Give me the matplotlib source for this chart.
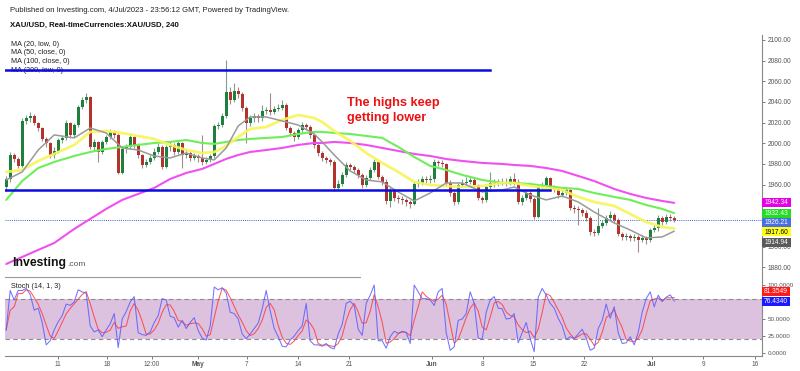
import numpy as np
import pandas as pd
import matplotlib
matplotlib.use('Agg')
import matplotlib.pyplot as plt
from matplotlib.patches import Rectangle
from matplotlib.lines import Line2D

plt.rcParams['font.family'] = ['Liberation Sans', 'DejaVu Sans']

W, H = 800, 371


def fx(px):
    return px / W


def fy(py):
    return 1 - py / H


# ---- XAU/USD 4h candles (open = previous close) ----
first_open = 1958
close = [1965, 1989, 1985, 1978, 2022, 2024, 2026, 2020, 2015, 2004,
         2000, 1989, 1993, 2003, 2005, 2020, 2008, 2018, 2035, 2042,
         2045, 1996, 2001, 1992, 2001, 2006, 2011, 2008, 1971, 1994,
         1996, 2006, 1998, 1989, 1979, 1982, 1986, 1992, 1996, 1977,
         1996, 1998, 1992, 2000, 1989, 1991, 1986, 1988, 1986, 1982,
         1984, 1988, 2017, 2018, 2026, 2050, 2042, 2051, 2048, 2034,
         2020, 2024, 2026, 2024, 2031, 2032, 2030, 2033, 2034, 2037,
         2015, 2010, 2006, 2013, 2018, 2016, 2008, 1998, 1991, 1986,
         1984, 1982, 1957, 1961, 1969, 1979, 1977, 1974, 1969, 1960,
         1966, 1974, 1982, 1967, 1963, 1944, 1955, 1947, 1946, 1945,
         1943, 1941, 1961, 1962, 1965, 1964, 1965, 1982, 1981, 1980,
         1962, 1952, 1943, 1960, 1962, 1963, 1964, 1960, 1947, 1945,
         1958, 1962, 1961, 1962, 1963, 1962, 1965, 1963, 1943, 1947,
         1952, 1946, 1929, 1958, 1960, 1966, 1957, 1956, 1950, 1952,
         1955, 1937, 1936, 1935, 1933, 1928, 1914, 1913, 1920, 1923,
         1928, 1931, 1926, 1912, 1909, 1910, 1908, 1909, 1906, 1908,
         1906, 1916, 1918, 1928, 1924, 1929, 1928, 1926.21]
high = [1968, 1992, 1991, 1987, 2024, 2027, 2030, 2028, 2021, 2016,
        2006, 2001, 1996, 2005, 2008, 2023, 2021, 2020, 2037, 2045,
        2049, 2046, 2004, 2002, 2003, 2008, 2014, 2013, 2010, 1996,
        1999, 2009, 2007, 2000, 1990, 1985, 1989, 1995, 2000, 1998,
        1998, 2002, 2000, 2003, 2001, 1994, 1993, 1991, 1990, 2008,
        1987, 1990, 2019, 2021, 2029, 2081, 2054, 2058, 2054, 2050,
        2036, 2027, 2029, 2028, 2037, 2035, 2049, 2036, 2038, 2042,
        2039, 2017, 2012, 2015, 2021, 2020, 2018, 2009, 2000, 1993,
        1988, 1986, 1984, 1964, 1972, 1982, 1981, 1979, 1976, 1971,
        1969, 1977, 1985, 1983, 1969, 1965, 1958, 1956, 1950, 1949,
        1947, 1945, 1963, 1965, 1968, 1968, 1969, 1985, 1984, 1984,
        1981, 1964, 1954, 1962, 1965, 1967, 1968, 1966, 1961, 1949,
        1960, 1972, 1965, 1965, 1966, 1966, 1968, 1971, 1965, 1950,
        1955, 1954, 1948, 1960, 1963, 1968, 1967, 1960, 1958, 1955,
        1958, 1956, 1940, 1939, 1937, 1935, 1930, 1917, 1937, 1926,
        1931, 1934, 1933, 1928, 1914, 1913, 1912, 1912, 1911, 1911,
        1910, 1918, 1921, 1931, 1930, 1932, 1932, 1930]
low = [1954, 1963, 1982, 1976, 1977, 2019, 2021, 2018, 2012, 2002,
       1996, 1986, 1986, 1991, 2000, 2003, 2005, 2006, 2016, 2033,
       2039, 1994, 1993, 1982, 1990, 1999, 2004, 2005, 1970, 1970,
       1991, 1994, 1995, 1986, 1976, 1977, 1980, 1984, 1990, 1975,
       1976, 1993, 1989, 1990, 1976, 1986, 1983, 1984, 1982, 1979,
       1980, 1982, 1986, 2014, 2016, 2024, 2038, 2040, 2044, 2031,
       2000, 2017, 2021, 2021, 2022, 2028, 2027, 2028, 2031, 2032,
       2013, 2007, 2002, 2004, 2011, 2013, 2005, 1995, 1988, 1983,
       1981, 1979, 1954, 1955, 1959, 1967, 1974, 1971, 1966, 1957,
       1958, 1964, 1972, 1965, 1960, 1941, 1938, 1944, 1942, 1941,
       1939, 1937, 1940, 1958, 1960, 1961, 1962, 1963, 1978, 1977,
       1959, 1949, 1940, 1941, 1958, 1960, 1961, 1957, 1945, 1942,
       1943, 1956, 1958, 1959, 1960, 1959, 1960, 1960, 1941, 1940,
       1945, 1943, 1927, 1928, 1956, 1958, 1954, 1953, 1947, 1948,
       1950, 1935, 1933, 1921, 1930, 1925, 1911, 1910, 1911, 1918,
       1921, 1926, 1923, 1910, 1906, 1906, 1905, 1905, 1895, 1904,
       1903, 1904, 1914, 1915, 1921, 1922, 1925, 1924]

# ---- moving averages, read at these bar indices ----
ma_idx = [0, 4, 8, 12, 17, 21, 25, 29, 33, 37, 41, 45, 49, 52, 55, 58, 61, 65, 69, 73, 77, 79,
          82, 86, 90, 94, 98, 102, 106, 110, 114, 119, 124, 127, 131, 135, 139, 143, 147, 152,
          156, 160, 164, 167]
ma20 = [1964.5, 1972.3, 1993.5, 2008.1, 2005.2, 2014.8, 2010.0, 1995.5, 1993.5, 1987.7, 1985.8,
        1990.6, 1985.8, 1983.9, 1995.5, 2016.8, 2025.5, 2025.5, 2021.6, 2017.7, 2009.0, 2001.3,
        1988.7, 1973.2, 1964.5, 1962.6, 1952.9, 1944.2, 1951.9, 1961.6, 1961.6, 1952.9, 1954.8,
        1957.7, 1950.0, 1945.2, 1949.0, 1943.2, 1933.5, 1922.9, 1916.1, 1908.4, 1909.4, 1914.94]
ma50 = [1972.3, 1974.2, 1982.9, 1989.7, 1998.4, 2011.0, 2011.9, 2010.0, 2007.1, 2004.2, 1998.4,
        1993.5, 1990.6, 1991.6, 1997.4, 2006.1, 2013.9, 2015.8, 2022.6, 2027.4, 2024.5, 2020.6,
        2011.9, 2002.3, 1990.6, 1981.0, 1972.3, 1962.6, 1959.7, 1958.7, 1957.7, 1958.7, 1961.6,
        1961.6, 1958.7, 1956.8, 1954.8, 1948.1, 1943.2, 1939.4, 1931.6, 1923.9, 1919.0, 1917.60]
ma100 = [1945.2, 1963.5, 1976.1, 1981.9, 1987.7, 1991.6, 1994.5, 1996.5, 1998.4, 2000.3, 2001.3,
         2003.2, 2000.3, 1999.4, 2001.3, 2003.2, 2004.2, 2005.2, 2006.1, 2009.0, 2011.0, 2011.0,
         2010.0, 2009.0, 2007.1, 2005.2, 1996.5, 1986.8, 1978.1, 1974.2, 1969.4, 1964.5, 1961.6,
         1961.6, 1960.6, 1958.7, 1956.8, 1955.8, 1951.9, 1948.1, 1945.2, 1940.3, 1936.5, 1932.43]
ma200 = [1883.2, 1890.0, 1896.8, 1903.5, 1917.1, 1926.8, 1936.5, 1945.2, 1951.0, 1956.8, 1965.5,
         1971.3, 1975.2, 1980.0, 1984.9, 1988.7, 1991.6, 1993.5, 1995.5, 1998.4, 2000.3, 2000.3,
         2001.3, 2000.3, 1998.4, 1995.5, 1992.6, 1989.7, 1987.7, 1984.8, 1982.9, 1981.0, 1980.0,
         1979.0, 1978.1, 1976.1, 1973.2, 1968.4, 1963.5, 1955.8, 1951.0, 1947.1, 1944.2, 1942.34]

# ---- Stoch (14, 1, 3) %K ----
stoch_k = [34, 92, 78, 92, 92, 95, 86, 63, 66, 45,
           12, 18, 34, 46, 55, 72, 70, 75, 93, 90,
           88, 40, 31, 34, 24, 34, 43, 58, 8, 50,
           61, 75, 83, 30, 27, 26, 31, 45, 55, 80,
           78, 54, 52, 38, 48, 36, 45, 52, 33, 22,
           19, 40, 97, 93, 96, 88, 60, 58, 50, 28,
           21, 28, 36, 44, 65, 92, 62, 36, 24, 10,
           9, 19, 25, 33, 40, 73, 18, 12, 12, 10,
           14, 8, 6, 28, 42, 73, 76, 70, 35, 26,
           73, 85, 100, 18, 18, 7, 24, 32, 29, 32,
           30, 14, 100, 90, 80, 80, 78, 70, 90, 95,
           30, 4, 9, 48, 50, 58, 90, 73, 22, 20,
           60, 78, 83, 66, 65, 50, 51, 58, 15, 30,
           45, 21, 2, 82, 95, 85, 73, 66, 51, 40,
           20, 24, 21, 28, 35, 22, 4, 7, 36, 48,
           72, 51, 68, 30, 14, 15, 24, 12, 30, 60,
           80, 90, 68, 85, 76, 82, 85.6307, 76.434]

resistance = 2071.0
resistance_end = 121
support = 1954.5
support_end = 136
last_price = 1926.21

tick_pos = [12.95, 25.2, 36.45, 47.95, 60.2, 72.95, 85.7, 106.45, 119.2, 131.7, 144.45, 161.45,
            174.2, 187.2]
tick_lab = ['11', '18', '12:00', 'May', '7', '14', '21', 'Jun', '8', '15', '22', 'Jul', '9', '16']
month_labels = ['May', 'Jun', 'Jul']

price_ticks = [1880, 1900, 1960, 1980, 2000, 2020, 2040, 2060, 2080, 2100]  # others hidden by boxes

# ---- figure ----
fig = plt.figure(figsize=(W / 100, H / 100), dpi=100)
fig.patch.set_facecolor('white')
ax = fig.add_axes([fx(5), fy(277), fx(762) - fx(5), fy(35) - fy(277)])
st = fig.add_axes([fx(5), fy(356), fx(762) - fx(5), fy(277) - fy(356)])

xs = np.arange(len(close))
c = np.array(close, dtype=float)
o = np.concatenate([[first_open], c[:-1]])
hi = np.array(high, dtype=float)
lo = np.array(low, dtype=float)
up = c >= o

# candles
ax.vlines(xs[up], lo[up], hi[up], color='#7fa08c', lw=0.8, zorder=2)
ax.vlines(xs[~up], lo[~up], hi[~up], color='#a58a8a', lw=0.8, zorder=2)
body_lo = np.minimum(o, c)
body_h = np.maximum(np.abs(c - o), 0.6)
ax.bar(xs[up], body_h[up], bottom=body_lo[up], width=0.72, color='#1f7f3d', lw=0, zorder=3)
ax.bar(xs[~up], body_h[~up], bottom=body_lo[~up], width=0.72, color='#b3322b', lw=0, zorder=3)

# moving averages
ax.plot(ma_idx, ma200, color='#f050f0', lw=1.5, zorder=4, solid_capstyle='round')
ax.plot(ma_idx, ma100, color='#6fee5a', lw=1.5, zorder=4, solid_capstyle='round')
ax.plot(ma_idx, ma50, color='#f7f55a', lw=2.0, alpha=0.9, zorder=4, solid_capstyle='round')
ax.plot(ma_idx, ma20, color='#9a9a9a', lw=1.1, zorder=4, solid_capstyle='round')

# drawn levels
ax.plot([-0.3, resistance_end], [resistance, resistance], color='#0a0ae6', lw=1.8, zorder=5)
ax.plot([-0.3, support_end], [support, support], color='#0a0ae6', lw=1.8, zorder=5)
ax.axhline(last_price, color='#3a5fd8', lw=0.7, ls=(0, (1, 1.2)), zorder=1)

ax.set_xlim(-0.3, 188.95)
ax.set_ylim(1870.6, 2104.8)
ax.set_yticks(np.arange(1880, 2101, 20))
ax.set_yticklabels([f'{v:.2f}' if v in price_ticks else '' for v in np.arange(1880, 2101, 20)])
ax.yaxis.tick_right()
ax.tick_params(axis='y', length=2.5, width=0.6, pad=1.5, labelsize=4.8, colors='#666666', labelcolor='#555555')
ax.set_xticks([])
for s in ['top', 'left', 'bottom']:
    ax.spines[s].set_visible(False)
ax.spines['right'].set_color('#888888')
ax.spines['right'].set_linewidth(0.8)

# legend text (struck through by the resistance line)
ma_names = ['MA (20, low, 0)', 'MA (50, close, 0)', 'MA (100, close, 0)', 'MA (200, low, 0)']
for k, name in enumerate(ma_names):
    ax.text(fx(11), fy(44 + k * 8.7), name, transform=fig.transFigure, fontsize=5.2,
            color='#222222', va='center', ha='left', zorder=1, clip_on=False)

ax.text(fx(347), fy(103), 'The highs keep', transform=fig.transFigure, fontsize=9.2,
        fontweight='bold', color='#ee1111', va='center', ha='left', zorder=6)
ax.text(fx(347), fy(118), 'getting lower', transform=fig.transFigure, fontsize=9.2,
        fontweight='bold', color='#ee1111', va='center', ha='left', zorder=6)

ax.text(fx(12), fy(263), 'Investing', transform=fig.transFigure, fontsize=8.8,
        fontweight='bold', color='#111111', va='center', ha='left', zorder=6)
ax.text(fx(67), fy(264.5), '.com', transform=fig.transFigure, fontsize=6,
        color='#555555', va='center', ha='left', zorder=6)

# ---- stochastic panel ----
k_s = pd.Series(stoch_k, dtype=float)
d_s = k_s.rolling(3, min_periods=1).mean()
st.axhspan(20, 80, color='#dcc2df', lw=0, zorder=0)
st.axhline(80, color='#8c8c8c', lw=0.8, ls=(0, (4, 3)), zorder=1)
st.axhline(20, color='#8c8c8c', lw=0.8, ls=(0, (4, 3)), zorder=1)
st.plot(xs, k_s.values, color='#5a5aff', lw=0.75, alpha=0.85, zorder=3)
st.plot(xs, d_s.values, color='#ff3c3c', lw=0.75, alpha=0.85, zorder=2)
st.set_xlim(-0.3, 188.95)
st.set_ylim(-4.4, 111.8)
st_ticks = [0, 25, 50, 100]
st.set_yticks(st_ticks)
st.set_yticklabels([f'{v:.4f}' for v in st_ticks])
st.yaxis.tick_right()
st.tick_params(axis='y', length=2.5, width=0.6, pad=1.5, labelsize=4.5, colors='#666666', labelcolor='#555555')
st.set_xticks(tick_pos)
st.set_xticklabels(tick_lab)
st.tick_params(axis='x', length=2, width=0.6, pad=1.5, labelsize=4.7, colors='#666666', labelcolor='#555555')
for t in st.get_xticklabels():
    if t.get_text() in month_labels:
        t.set_fontweight('bold')
for s in ['top', 'left']:
    st.spines[s].set_visible(False)
for s in ['right', 'bottom']:
    st.spines[s].set_color('#888888')
    st.spines[s].set_linewidth(0.8)
st.text(fx(11), fy(286), 'Stoch (14, 1, 3)', transform=fig.transFigure, fontsize=5.2,
        color='#222222', va='center', ha='left', zorder=6)

# pane separator
fig.lines.append(Line2D([fx(5), fx(360)], [fy(277), fy(277)], transform=fig.transFigure,
                        color='#9a9a9a', lw=0.8))

# header
fig.text(fx(10), fy(11), 'Published on Investing.com, 4/Jul/2023 - 23:56:12 GMT, Powered by TradingView.',
         fontsize=5.5, color='#222222', va='center', ha='left')
fig.text(fx(10), fy(25), 'XAU/USD, Real-timeCurrencies:XAU/USD, 240', fontsize=5.6,
         fontweight='bold', color='#111111', va='center', ha='left')


# last-value boxes on the right axis
def value_box(yc, w, h, face, text, tcolor):
    fig.patches.append(Rectangle((fx(762), fy(yc + h / 2)), w / W, h / H, transform=fig.transFigure,
                                 facecolor=face, edgecolor='none', zorder=5))
    fig.text(fx(762 + w / 2), fy(yc), text, fontsize=4.8, color=tcolor, ha='center', va='center', zorder=6)


value_box(202.7, 29, 9, '#e600e6', f'{ma200[-1]:.2f}', 'white')
value_box(213.3, 29, 9, '#22dd22', f'{ma100[-1]:.2f}', 'white')
value_box(222.3, 29, 9, '#4a6fe0', f'{last_price:.2f}', 'white')
value_box(232.0, 29, 9, '#ffff1a', f'{ma50[-1]:.2f}', 'black')
value_box(242.0, 29, 9, '#5a5a5a', f'{ma20[-1]:.2f}', 'white')
value_box(291.7, 28, 9, '#ff1a1a', f'{d_s.values[-1]:.4f}', 'white')
value_box(301.7, 28, 9, '#1a1aff', f'{k_s.values[-1]:.4f}', 'white')

fig.savefig('out.png', dpi=100, facecolor='white')
